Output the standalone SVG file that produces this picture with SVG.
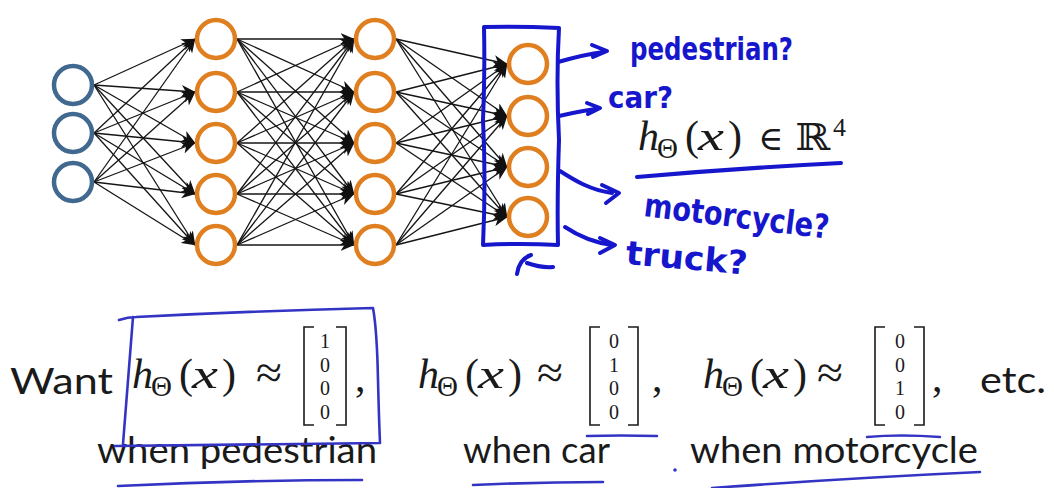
<svg xmlns="http://www.w3.org/2000/svg" width="1054" height="488" viewBox="0 0 1054 488">
<defs>
<marker id="ah" markerUnits="userSpaceOnUse" viewBox="0 0 14 12" markerWidth="14" markerHeight="12" refX="13.5" refY="6" orient="auto">
<path d="M0,0 L14,6 L0,12 L4,6 z" fill="#111"/>
</marker>
</defs>
<style>
.in{fill:#fff;stroke:#41698f;stroke-width:4.5}
.hid{fill:#fff;stroke:#e07f1f;stroke-width:4.5}
.c line{stroke:#151515;stroke-width:1.3;marker-end:url(#ah)}
.pen{fill:none;stroke:#1616cc;stroke-width:4;stroke-linecap:round;stroke-linejoin:round}
.pen2{fill:none;stroke:#3434c4;stroke-width:2.6;stroke-linecap:round;stroke-linejoin:round}
.hw{font-family:"DejaVu Sans","Noto Sans",sans-serif;font-weight:bold;fill:#1616cc}
.m{font-family:"Liberation Serif","DejaVu Serif",serif;fill:#1a1a1a}
.mi{font-family:"Liberation Serif","DejaVu Serif",serif;font-style:italic;fill:#1a1a1a}
.ms{font-family:"DejaVu Serif","DejaVu Sans",serif;fill:#1a1a1a}
.dg{font-family:"Liberation Serif","DejaVu Serif",serif;font-size:20px;fill:#1a1a1a;text-anchor:middle}
.br{fill:none;stroke:#1a1a1a;stroke-width:1.6}
.t{font-family:"Lato","Open Sans",sans-serif;font-size:36px;fill:#1a1a1a}
</style>
<rect width="1054" height="488" fill="#fff"/>

<g id="connectors" class="c">
<line x1="94" y1="85" x2="195" y2="39"/><line x1="94" y1="85" x2="195" y2="92"/><line x1="94" y1="85" x2="195" y2="143"/><line x1="94" y1="85" x2="195" y2="194"/><line x1="94" y1="85" x2="195" y2="245"/>
<line x1="94" y1="133" x2="195" y2="39"/><line x1="94" y1="133" x2="195" y2="92"/><line x1="94" y1="133" x2="195" y2="143"/><line x1="94" y1="133" x2="195" y2="194"/><line x1="94" y1="133" x2="195" y2="245"/>
<line x1="94" y1="182" x2="195" y2="39"/><line x1="94" y1="182" x2="195" y2="92"/><line x1="94" y1="182" x2="195" y2="143"/><line x1="94" y1="182" x2="195" y2="194"/><line x1="94" y1="182" x2="195" y2="245"/>

<line x1="237" y1="39" x2="354" y2="39"/><line x1="237" y1="39" x2="354" y2="92"/><line x1="237" y1="39" x2="354" y2="143"/><line x1="237" y1="39" x2="354" y2="194"/><line x1="237" y1="39" x2="354" y2="245"/>
<line x1="237" y1="92" x2="354" y2="39"/><line x1="237" y1="92" x2="354" y2="92"/><line x1="237" y1="92" x2="354" y2="143"/><line x1="237" y1="92" x2="354" y2="194"/><line x1="237" y1="92" x2="354" y2="245"/>
<line x1="237" y1="143" x2="354" y2="39"/><line x1="237" y1="143" x2="354" y2="92"/><line x1="237" y1="143" x2="354" y2="143"/><line x1="237" y1="143" x2="354" y2="194"/><line x1="237" y1="143" x2="354" y2="245"/>
<line x1="237" y1="194" x2="354" y2="39"/><line x1="237" y1="194" x2="354" y2="92"/><line x1="237" y1="194" x2="354" y2="143"/><line x1="237" y1="194" x2="354" y2="194"/><line x1="237" y1="194" x2="354" y2="245"/>
<line x1="237" y1="245" x2="354" y2="39"/><line x1="237" y1="245" x2="354" y2="92"/><line x1="237" y1="245" x2="354" y2="143"/><line x1="237" y1="245" x2="354" y2="194"/><line x1="237" y1="245" x2="354" y2="245"/>

<line x1="396" y1="39" x2="507" y2="64"/><line x1="396" y1="39" x2="507" y2="116"/><line x1="396" y1="39" x2="507" y2="167"/><line x1="396" y1="39" x2="507" y2="217"/>
<line x1="396" y1="92" x2="507" y2="64"/><line x1="396" y1="92" x2="507" y2="116"/><line x1="396" y1="92" x2="507" y2="167"/><line x1="396" y1="92" x2="507" y2="217"/>
<line x1="396" y1="143" x2="507" y2="64"/><line x1="396" y1="143" x2="507" y2="116"/><line x1="396" y1="143" x2="507" y2="167"/><line x1="396" y1="143" x2="507" y2="217"/>
<line x1="396" y1="194" x2="507" y2="64"/><line x1="396" y1="194" x2="507" y2="116"/><line x1="396" y1="194" x2="507" y2="167"/><line x1="396" y1="194" x2="507" y2="217"/>
<line x1="396" y1="245" x2="507" y2="64"/><line x1="396" y1="245" x2="507" y2="116"/><line x1="396" y1="245" x2="507" y2="167"/><line x1="396" y1="245" x2="507" y2="217"/>
</g>

<g id="in1"><circle class="in" cx="73" cy="85" r="19"/></g>
<g id="in2"><circle class="in" cx="73" cy="133" r="19"/></g>
<g id="in3"><circle class="in" cx="73" cy="182" r="19"/></g>

<g id="h1a"><circle class="hid" cx="216" cy="39" r="19"/></g>
<g id="h1b"><circle class="hid" cx="216" cy="92" r="19"/></g>
<g id="h1c"><circle class="hid" cx="216" cy="143" r="19"/></g>
<g id="h1d"><circle class="hid" cx="216" cy="194" r="19"/></g>
<g id="h1e"><circle class="hid" cx="216" cy="245" r="19"/></g>

<g id="h2a"><circle class="hid" cx="375" cy="39" r="19"/></g>
<g id="h2b"><circle class="hid" cx="375" cy="92" r="19"/></g>
<g id="h2c"><circle class="hid" cx="375" cy="143" r="19"/></g>
<g id="h2d"><circle class="hid" cx="375" cy="194" r="19"/></g>
<g id="h2e"><circle class="hid" cx="375" cy="245" r="19"/></g>

<g id="out1"><circle class="hid" cx="528" cy="64" r="19"/></g>
<g id="out2"><circle class="hid" cx="528" cy="116" r="19"/></g>
<g id="out3"><circle class="hid" cx="528" cy="167" r="19"/></g>
<g id="out4"><circle class="hid" cx="528" cy="217" r="19"/></g>

<g id="output-box">
<path class="pen" d="M484,27 Q520,26 559,28 Q556,80 559,140 Q557,200 558,245 Q520,243 483,245 Q486,180 483,120 Q485,70 484,27 Z"/>
<path class="pen" d="M517,274 Q519,259 531,255 M527,263 Q541,268 553,267"/>
</g>

<g id="labels">
<path class="pen" d="M558,62 C572,58 588,54 604,52 M592,45 L607,51 L593,57"/>
<text class="hw" x="630" y="60" font-size="32" textLength="163" lengthAdjust="spacingAndGlyphs">pedestrian?</text>
<path class="pen" d="M559,116 C572,113 585,110 598,109 M587,103 L600,108 L588,114"/>
<text class="hw" x="608" y="108" font-size="30" textLength="65" lengthAdjust="spacingAndGlyphs">car?</text>
<path class="pen" d="M560,171 C574,180 590,190 612,193 M602,185 L619,193 L606,203"/>
<text class="hw" x="643" y="216" font-size="33" transform="rotate(7 643 216)" textLength="186" lengthAdjust="spacingAndGlyphs">motorcycle?</text>
<path class="pen" d="M565,227 C574,233 590,242 612,245 M600,238 L615,245 L600,253"/>
<text class="hw" x="625" y="264" font-size="33" transform="rotate(5 625 264)" textLength="122" lengthAdjust="spacingAndGlyphs">truck?</text>
</g>

<g id="formula-top">
<text class="mi" x="638" y="150" font-size="42">h</text>
<text class="m" x="657" y="158" font-size="29">Θ</text>
<text class="m" x="685" y="150" font-size="42">(</text>
<text class="mi" x="698" y="150" font-size="42" textLength="26" lengthAdjust="spacingAndGlyphs">x</text>
<text class="m" x="728" y="150" font-size="42">)</text>
<text class="ms" x="758" y="150" font-size="34">∈</text>
<text class="ms" x="795" y="150" font-size="37" textLength="35" lengthAdjust="spacingAndGlyphs">ℝ</text>
<text class="m" x="833" y="136" font-size="26">4</text>
<path class="pen" d="M637,177 Q740,168 841,163"/>
</g>

<g id="want-row">
<text class="t" x="10" y="394" textLength="103" lengthAdjust="spacingAndGlyphs">Want</text>

<text class="mi" x="132" y="388" font-size="42">h</text>
<text class="m" x="151" y="396" font-size="29">Θ</text>
<text class="m" x="179" y="388" font-size="42">(</text>
<text class="mi" x="192" y="388" font-size="42" textLength="26" lengthAdjust="spacingAndGlyphs">x</text>
<text class="m" x="222" y="388" font-size="42">)</text>
<text class="m" x="256" y="388" font-size="46" textLength="26" lengthAdjust="spacingAndGlyphs">≈</text>
<path class="br" d="M314,327 L304,327 L304,425 L314,425 M336,327 L346,327 L346,425 L336,425"/>
<text class="dg" x="325" y="348">1<tspan x="325" dy="23.5">0</tspan><tspan x="325" dy="23.5">0</tspan><tspan x="325" dy="23.5">0</tspan></text>
<text class="m" x="355" y="391" font-size="42">,</text>

<text class="mi" x="418" y="388" font-size="42">h</text>
<text class="m" x="437" y="396" font-size="29">Θ</text>
<text class="m" x="465" y="388" font-size="42">(</text>
<text class="mi" x="478" y="388" font-size="42" textLength="26" lengthAdjust="spacingAndGlyphs">x</text>
<text class="m" x="508" y="388" font-size="42">)</text>
<text class="m" x="537" y="388" font-size="46" textLength="26" lengthAdjust="spacingAndGlyphs">≈</text>
<path class="br" d="M600,327 L590,327 L590,425 L600,425 M628,327 L638,327 L638,425 L628,425"/>
<text class="dg" x="614" y="348">0<tspan x="614" dy="23.5">1</tspan><tspan x="614" dy="23.5">0</tspan><tspan x="614" dy="23.5">0</tspan></text>
<text class="m" x="652" y="391" font-size="42">,</text>

<text class="mi" x="703" y="388" font-size="42">h</text>
<text class="m" x="722" y="396" font-size="29">Θ</text>
<text class="m" x="750" y="388" font-size="42">(</text>
<text class="mi" x="763" y="388" font-size="42" textLength="26" lengthAdjust="spacingAndGlyphs">x</text>
<text class="m" x="793" y="388" font-size="42">)</text>
<text class="m" x="817" y="388" font-size="46" textLength="26" lengthAdjust="spacingAndGlyphs">≈</text>
<path class="br" d="M885,327 L875,327 L875,425 L885,425 M914,327 L924,327 L924,425 L914,425"/>
<text class="dg" x="900" y="348">0<tspan x="900" dy="23.5">0</tspan><tspan x="900" dy="23.5">1</tspan><tspan x="900" dy="23.5">0</tspan></text>
<text class="m" x="932" y="391" font-size="42">,</text>

<text class="t" x="980" y="393" textLength="66" lengthAdjust="spacingAndGlyphs">etc.</text>

<text class="t" x="97" y="463" textLength="280" lengthAdjust="spacingAndGlyphs">when pedestrian</text>
<text class="t" x="463" y="463" textLength="147" lengthAdjust="spacingAndGlyphs">when car</text>
<text class="t" x="690" y="463" textLength="288" lengthAdjust="spacingAndGlyphs">when motorcycle</text>
</g>

<g id="bottom-marks">
<path class="pen2" d="M119,320 Q128,317 136,317 Q250,311 373,308 Q377,330 378,380 Q379,420 380,443 Q250,445 115,446 M133,317 Q128,380 123,444"/>
<path class="pen2" d="M118,486 Q240,480 362,480"/>
<path class="pen2" d="M473,485 Q540,482 603,482"/>
<path class="pen2" d="M587,436 Q620,435 657,436"/>
<circle cx="675" cy="470" r="1.8" fill="#3434c4"/>
<path class="pen2" d="M867,437 Q900,434 940,437"/>
<path class="pen2" d="M712,488 Q850,478 980,472"/>
</g>
</svg>
